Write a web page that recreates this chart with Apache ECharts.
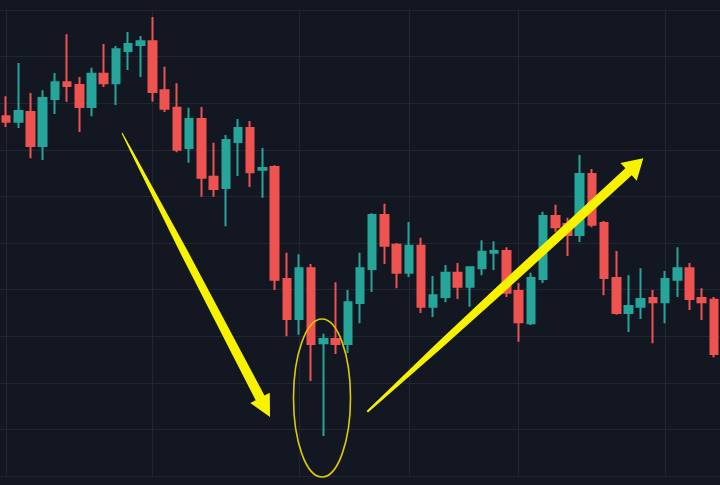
<!DOCTYPE html>
<html>
<head>
<meta charset="utf-8">
<script src="https://cdn.jsdelivr.net/npm/echarts@6/dist/echarts.min.js"></script>
<style>
  html, body { margin: 0; padding: 0; background: #131722; }
  #chart { width: 720px; height: 485px; }
</style>
</head>
<body>
<div id="chart"></div>
<script>
// Candle labels (sessions)
const categories = Array.from({ length: 59 }, (_, i) => 'D' + (i + 1));

// [open, close, low, high]
const ohlc = [
  [177.2, 176.0, 174.9, 181.5],
  [176.0, 178.3, 174.7, 188.6],
  [178.1, 170.8, 168.2, 182.2],
  [170.8, 181.1, 167.8, 182.8],
  [180.9, 184.5, 177.7, 186.5],
  [184.5, 183.7, 180.3, 194.8],
  [183.9, 179.2, 173.8, 185.6],
  [179.2, 186.3, 177.2, 187.6],
  [186.3, 184.3, 183.5, 192.7],
  [184.3, 191.6, 179.6, 192.3],
  [191.2, 192.7, 187.1, 195.3],
  [192.5, 193.3, 185.6, 194.4],
  [193.3, 182.4, 180.3, 198.5],
  [182.8, 178.8, 178.1, 187.8],
  [179.0, 170.0, 169.5, 184.3],
  [170.4, 176.6, 167.2, 179.0],
  [176.6, 164.0, 159.9, 179.2],
  [164.2, 161.6, 159.9, 171.5],
  [161.8, 172.1, 153.6, 173.2],
  [171.7, 174.7, 164.4, 176.6],
  [174.7, 165.2, 162.0, 176.2],
  [165.7, 166.1, 159.7, 170.4],
  [166.3, 142.1, 139.9, 166.7],
  [142.3, 133.7, 130.0, 147.9],
  [133.7, 144.6, 130.3, 147.6],
  [144.6, 128.3, 120.4, 145.5],
  [128.5, 129.4, 108.6, 130.5],
  [129.4, 128.3, 126.2, 141.6],
  [128.3, 137.3, 126.4, 139.9],
  [137.1, 144.6, 132.8, 147.9],
  [144.4, 156.0, 139.5, 156.4],
  [156.0, 149.4, 145.5, 158.4],
  [149.6, 143.6, 140.3, 150.0],
  [143.6, 149.4, 142.7, 154.5],
  [149.4, 136.3, 135.0, 151.1],
  [136.3, 138.8, 134.1, 142.9],
  [138.4, 143.6, 137.3, 145.3],
  [143.6, 140.6, 138.0, 145.7],
  [140.6, 144.8, 136.3, 144.8],
  [144.6, 148.1, 143.1, 150.6],
  [147.9, 148.3, 144.2, 150.4],
  [148.3, 139.3, 138.4, 149.1],
  [139.7, 133.0, 128.8, 141.4],
  [132.8, 142.5, 132.4, 143.6],
  [142.3, 155.8, 141.4, 156.7],
  [155.8, 153.4, 152.4, 158.2],
  [154.1, 151.7, 147.2, 155.4],
  [151.7, 164.8, 150.2, 168.9],
  [164.8, 153.9, 153.4, 165.9],
  [154.3, 142.5, 138.8, 154.7],
  [142.5, 135.0, 134.6, 148.3],
  [135.0, 136.5, 130.9, 143.1],
  [136.3, 138.0, 133.7, 144.6],
  [138.2, 137.3, 128.5, 139.9],
  [137.3, 142.3, 132.8, 144.0],
  [142.1, 144.6, 138.4, 149.1],
  [144.6, 138.0, 135.6, 145.7],
  [138.2, 137.3, 133.5, 140.3],
  [137.8, 126.2, 125.5, 138.4]
];

// Sessions where vertical time grid lines fall
const timeGridIdx = [0, 12, 24, 33, 42, 54];

const yMin = 100, yMax = 200, yStep = 10;

const UP = '#26a69a', DOWN = '#ef5350', GRID = '#222633', YEL = '#f7f200';

const chart = echarts.init(document.getElementById('chart'), null, { renderer: 'canvas' });

chart.setOption({
  backgroundColor: '#131722',
  animation: false,
  grid: { left: -4.45, right: -1.25, top: 10, bottom: 9, containLabel: false },
  xAxis: {
    type: 'category',
    data: categories,
    boundaryGap: true,
    axisLine: { show: false },
    axisTick: { show: false },
    axisLabel: { show: false },
    splitLine: { show: false }
  },
  yAxis: {
    type: 'value',
    min: yMin, max: yMax, interval: yStep,
    axisLine: { show: false },
    axisTick: { show: false },
    axisLabel: { show: false },
    splitLine: { show: true, lineStyle: { color: GRID, width: 1 } }
  },
  series: [
    {
      type: 'line',
      data: [],
      z: 0,
      silent: true,
      markLine: {
        z: 0,
        silent: true,
        symbol: ['none', 'none'],
        label: { show: false },
        lineStyle: { color: GRID, width: 1, type: 'solid' },
        emphasis: { disabled: true },
        data: timeGridIdx.map(i => ({ xAxis: categories[i] }))
      }
    },
    {
      type: 'candlestick',
      z: 3,
      data: ohlc,
      barWidth: 8,
      itemStyle: {
        color: UP, color0: DOWN,
        borderColor: UP, borderColor0: DOWN,
        borderWidth: 2
      }
    }
  ],
  graphic: [
    {
      type: 'polygon', z: 100, silent: true,
      shape: { points: [
        [121.56, 133.23], [131.29, 153.42], [180.85, 253.93], [255.63, 400.24],
        [250.3, 403.0], [270, 417], [269.8, 392.85], [264.49, 395.62],
        [187.41, 250.51], [133.41, 152.32], [122.44, 132.77]
      ] },
      style: { fill: YEL }
    },
    {
      type: 'polygon', z: 100, silent: true,
      shape: { points: [
        [366.62, 410.96], [438.09, 341.96], [495.03, 288.60], [625.39, 168.37],
        [620.4, 163.0], [643.3, 158.3], [636.7, 180.7], [631.75, 175.29],
        [500.85, 294.94], [442.83, 347.12], [367.98, 412.44]
      ] },
      style: { fill: YEL }
    },
    {
      type: 'ellipse', z: 100, silent: true,
      shape: { cx: 322, cy: 398, rx: 28.5, ry: 79 },
      style: { fill: 'none', stroke: '#dccb00', lineWidth: 1.6 }
    }
  ]
});
</script>
</body>
</html>
